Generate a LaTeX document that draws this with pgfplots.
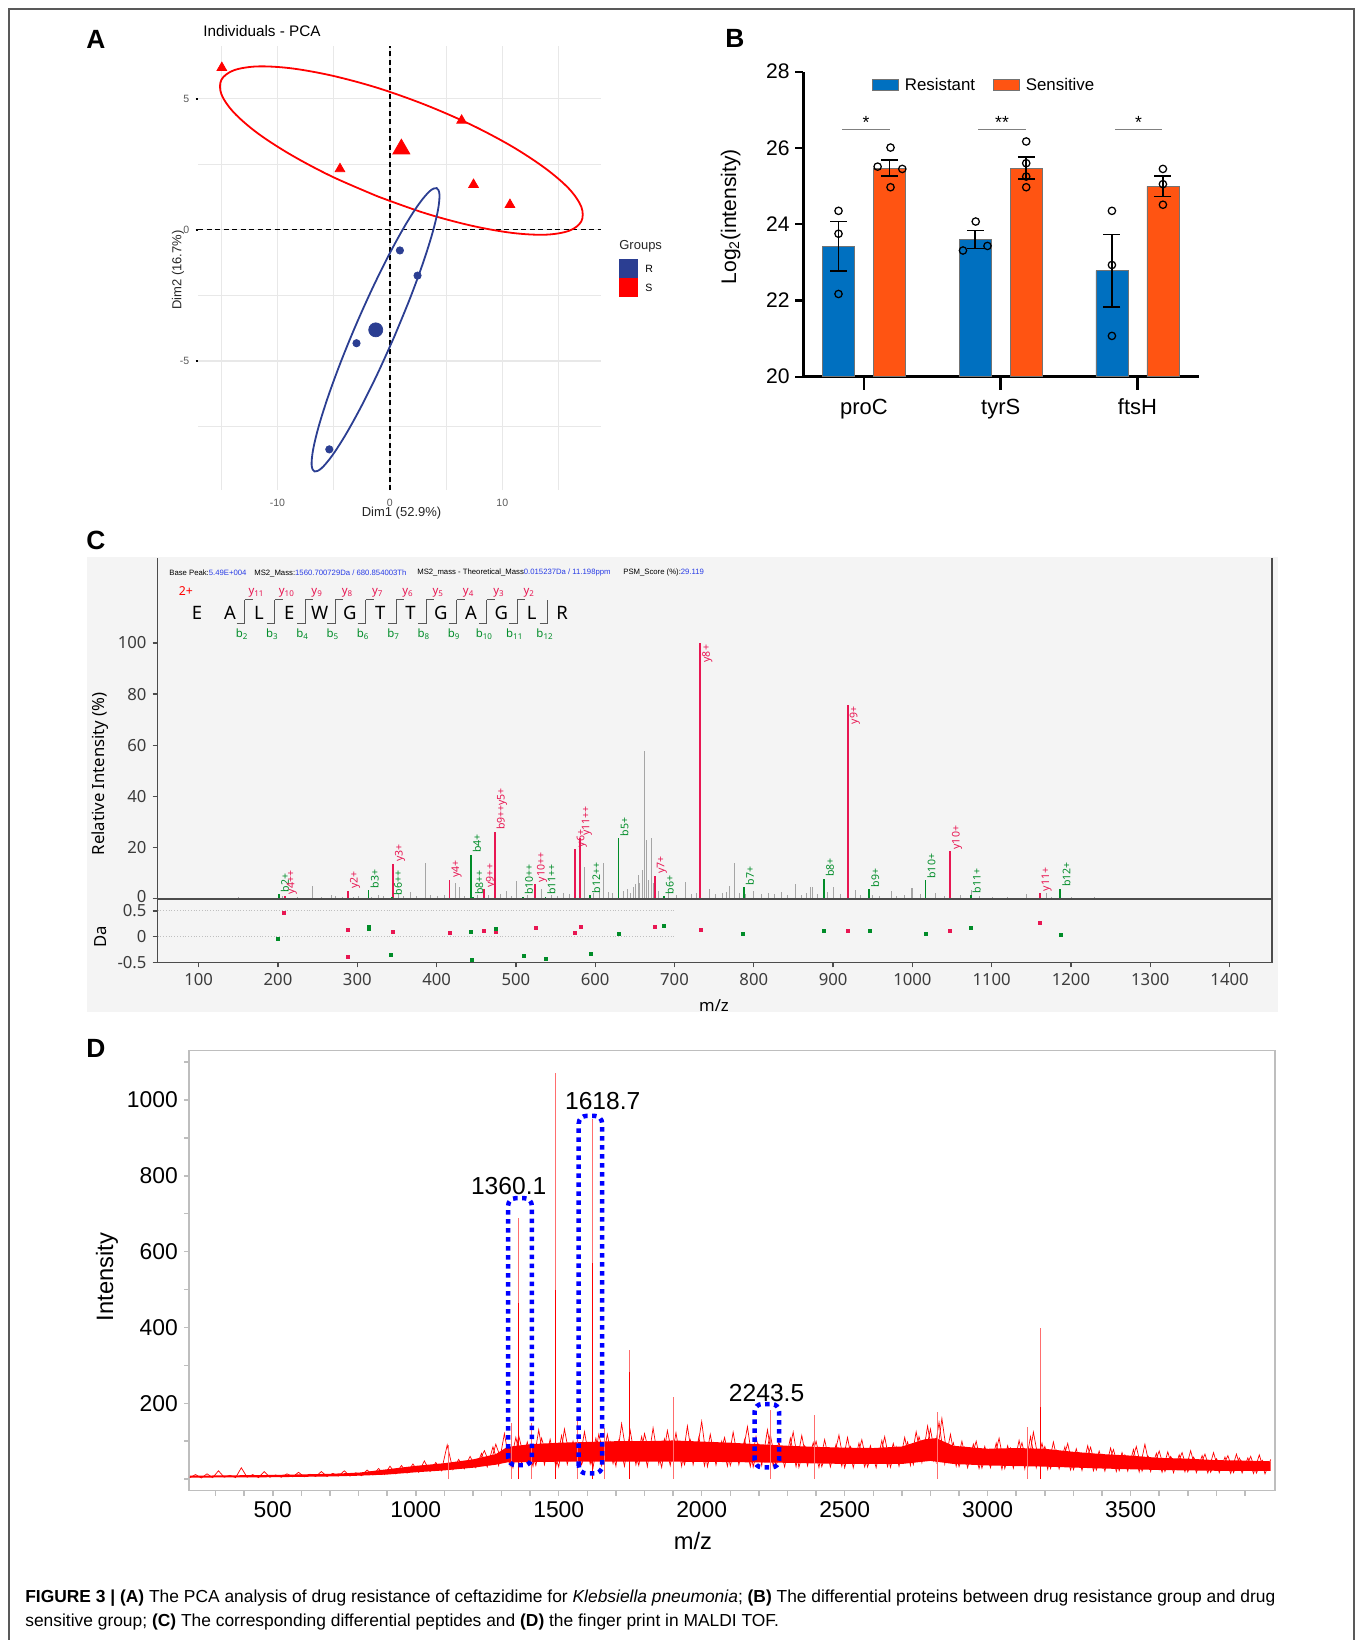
\documentclass[border=0pt]{standalone}
\usepackage{fontspec}
\setmainfont{Liberation Sans}
\newfontfamily\noto{Noto Sans}
\usepackage{pgfplots}
\pgfplotsset{compat=1.18}

\definecolor{pcared}{RGB}{255,0,0}
\definecolor{pcablue}{RGB}{43,62,146}
\definecolor{gridgray}{RGB}{232,232,232}
\definecolor{resblue}{RGB}{0,112,192}
\definecolor{senorange}{RGB}{255,84,18}
\definecolor{yion}{RGB}{232,22,82}
\definecolor{bion}{RGB}{0,140,40}
\definecolor{peakgray}{RGB}{165,165,165}
\definecolor{cbg}{RGB}{244,244,244}
\definecolor{ticktext}{RGB}{60,60,60}
\definecolor{hdrblue}{RGB}{40,60,230}
\definecolor{framegray}{RGB}{190,190,190}
\definecolor{spike}{RGB}{255,110,110}

\newcommand{\fs}[1]{\fontsize{#1}{#1}\selectfont}
% peak label, text going up from the peak top
\newcommand{\pku}[4]{\node[rotate=90, anchor=north west, inner sep=0.9pt, text=#1, font=\noto\bfseries\fs{6}] at (axis cs:#2,#3) {#4};}
% peak label, text going down from the peak top
\newcommand{\pkd}[4]{\node[rotate=90, anchor=north east, inner sep=0.9pt, text=#1, font=\noto\bfseries\fs{6}] at (axis cs:#2,#3) {#4};}

\begin{document}
\begin{tikzpicture}
\path[use as bounding box] (0,0) rectangle (271mm,-328mm);
\begin{scope}[x=0.2mm,y=-0.2mm]
\draw[gray!70!black, line width=0.3mm] (9,1640) -- (9,9) -- (1354,9) -- (1354,1640);
\fill[cbg] (87,557) rectangle (1278,1012);
\end{scope}

% ---------------- A: PCA
\begin{axis}[
  at={(39.6mm,-98mm)}, anchor=south west, scale only axis,
  width=80.6mm, height=88.8mm,
  xmin=-17.07, xmax=18.78, ymin=-9.93, ymax=7.01,
  axis line style={draw=none},
  xtick={-10,0,10}, ytick={-5,0,5},
  minor xtick={-15,-5,5,15}, minor ytick={-7.5,-2.5,2.5},
  grid=both,
  major grid style={gridgray, line width=0.3mm},
  minor grid style={gridgray, line width=0.2mm},
  xtick style={draw=none}, minor tick style={draw=none},
  ytick style={black, line width=0.4mm}, major tick length=0.5mm, tick align=outside,
  ytick pos=left,
  tick label style={font=\fs{6}, text=black!65},
  /pgf/number format/assume math mode=true,
  xlabel={Dim1 (52.9\%)}, ylabel={Dim2 (16.7\%)},
  label style={font=\fs{7.4}, text=black!85},
  xlabel style={at={(axis description cs:0.505,-0.0518)}, anchor=center},
  ylabel style={at={(axis description cs:-0.0496,0.4955)}, anchor=center},
]
\addplot[black, line width=0.3mm, dash pattern=on 1mm off 0.7mm] coordinates {(-17.07,0)(18.78,0)};
\addplot[black, line width=0.3mm, dash pattern=on 1mm off 0.7mm] coordinates {(0,-9.93)(0,7.01)};
\addplot[pcared, line width=0.36mm, smooth, tension=0.55] coordinates {
(-1.08,1.27)(-5.16,2.03)(-8.81,2.86)(-11.79,3.69)(-13.90,4.48)(-14.99,5.17)(-14.99,5.72)(-13.90,6.08)
(-11.79,6.23)(-8.81,6.16)(-5.16,5.88)(-1.09,5.41)(3.12,4.77)(7.20,4.01)(10.85,3.18)(13.83,2.34)
(15.94,1.56)(17.03,0.87)(17.03,0.32)(15.94,-0.04)(13.83,-0.19)(10.85,-0.12)(7.20,0.16)(3.13,0.63)(-1.08,1.27)};
\addplot[pcablue, line width=0.36mm, smooth, tension=0.55] coordinates {
(0.415,-4.055)(-1.049,-5.446)(-2.528,-6.726)(-3.921,-7.808)(-5.135,-8.618)(-6.085,-9.101)(-6.708,-9.223)
(-6.961,-8.977)(-6.826,-8.380)(-6.313,-7.472)(-5.456,-6.314)(-4.315,-4.986)(-2.967,-3.579)(-1.503,-2.188)
(-0.024,-0.908)(1.369,0.174)(2.583,0.984)(3.533,1.467)(4.156,1.589)(4.409,1.343)(4.274,0.746)(3.761,-0.162)
(2.904,-1.320)(1.763,-2.648)(0.415,-4.055)};
\addplot[only marks, mark=triangle*, mark size=3.2pt, pcared] coordinates {
(-14.95,6.18)(6.38,4.17)(-4.44,2.32)(7.44,1.72)(10.68,0.955)};
\addplot[only marks, mark=triangle*, mark size=5.6pt, pcared] coordinates {(1.02,3.08)};
\addplot[only marks, mark=*, mark size=2.1pt, pcablue] coordinates {
(0.89,-0.79)(2.46,-1.75)(-2.97,-4.33)(-5.39,-8.38)};
\addplot[only marks, mark=*, mark size=4pt, pcablue] coordinates {(-1.26,-3.82)};
\end{axis}

% ---------------- B: bars
\begin{axis}[
  at={(160.66mm,-75.34mm)}, anchor=south west, scale only axis,
  width=79.1mm, height=61mm,
  xmin=-0.444, xmax=2.449, ymin=20, ymax=28,
  axis x line*=bottom, axis y line*=left,
  axis line style={black, line width=0.5mm},
  xtick={0,1,2}, xticklabels={proC,tyrS,ftsH},
  ytick={20,22,24,26,28},
  tick align=outside,
  xtick style={black, line width=0.55mm, /pgfplots/major tick length=2.6mm},
  ytick style={black, line width=0.45mm, /pgfplots/major tick length=1.6mm},
  yticklabel style={font=\fs{12}},
  xticklabel style={font=\fs{12.5}, yshift=-1.7mm},
  /pgf/number format/assume math mode=true,
  ylabel={Log\textsubscript{2}(intensity)},
  ylabel style={font=\fs{12}, at={(axis description cs:-0.1838,0.5246)}, anchor=center},
  clip=false,
]
\addplot[ybar, bar width=0.234, bar shift=0pt, fill=resblue, draw=black!55, line width=0.15mm]
  coordinates {(-0.1865,23.42)(0.8135,23.60)(1.8135,22.78)};
\addplot[ybar, bar width=0.234, bar shift=0pt, fill=senorange, draw=black!55, line width=0.15mm]
  coordinates {(0.1865,25.46)(1.1865,25.47)(2.1865,24.99)};
\addplot[draw=none, mark=none,
  error bars/.cd, y dir=both, y explicit,
  error bar style={draw=black, solid, line width=0.3mm},
  error mark options={rotate=90, mark size=4.8pt, draw=black, solid, line width=0.3mm}]
  coordinates {(-0.1865,23.42) +- (0,0.65) (0.1865,25.47) +- (0,0.21) (0.8135,23.60) +- (0,0.24)
               (1.1865,25.47) +- (0,0.29) (1.8135,22.78) +- (0,0.95) (2.1865,24.99) +- (0,0.27)};
\addplot[only marks, mark=o, mark size=2.1pt, black, line width=0.25mm] coordinates {
(-0.1865,24.35)(-0.1865,23.75)(-0.1865,22.17)
(0.0995,25.51)(0.280,25.45)(0.194,26.01)(0.194,24.97)
(0.817,24.07)(0.903,23.43)(0.724,23.31)
(1.1865,26.17)(1.1865,25.60)(1.1865,25.25)(1.1865,24.97)
(1.8135,24.35)(1.8135,22.93)(1.8135,21.07)
(2.1865,25.45)(2.1865,25.05)(2.1865,24.51)};
\draw[gray, line width=0.25mm] (axis cs:-0.161,26.49) -- (axis cs:0.190,26.49);
\draw[gray, line width=0.25mm] (axis cs:0.834,26.49) -- (axis cs:1.185,26.49);
\draw[gray, line width=0.25mm] (axis cs:1.836,26.49) -- (axis cs:2.180,26.49);
\node[font=\fs{10}] at (axis cs:0.015,26.68) {*};
\node[font=\fs{10}] at (axis cs:1.01,26.68) {**};
\node[font=\fs{10}] at (axis cs:2.008,26.68) {*};
\end{axis}

% ---------------- C: MS/MS spectrum, upper
\begin{axis}[
  at={(31.54mm,-179.66mm)}, anchor=south west, scale only axis,
  width=222.86mm, height=68.06mm,
  xmin=48.3, xmax=1453.5, ymin=0, ymax=133.3,
  axis x line*=bottom, axis y line*=left,
  axis line style={black!70, line width=0.25mm},
  xtick=\empty, ytick={0,20,40,60,80,100},
  yticklabels={\raisebox{2.2pt}{0},20,40,60,80,100},
  tick align=outside, major tick length=1mm,
  ytick style={black!70, line width=0.25mm},
  tick label style={font=\noto\fs{9.5}, text=ticktext},
  /pgf/number format/assume math mode=true,
  ylabel={\bfseries Relative Intensity (\%)},
  ylabel style={font=\noto\fs{9.5}, at={(axis description cs:-0.0515,0.366)}, anchor=center},
  clip=false,
]
\addplot[ycomb, peakgray, line width=0.18mm] coordinates {
(150,0.4)(180,0.3)(205,0.8)(225,0.5)(243,4.9)(255,0.6)(268,1.3)(272,0.8)(281,0.5)(295,0.7)(301,1.0)
(318,0.6)(327,1.2)(333,0.8)(352,1.5)(358,0.9)(367,2.5)(374,1.0)(385.4,14)(392,1.1)(401,0.8)(410,1.2)
(424,5.9)(428.8,4.5)(435,1.0)(452,1.4)(466,1.2)(480,1.5)(487.7,2.9)(495,1.0)(500.8,6.8)(515,1.3)
(532,3.6)(545,1.2)(553,1.0)(560,2.0)(568,1.6)(587,12.4)(598,2.0)(605,3)(610.4,14)(617,2.5)(622,2)
(636,2.8)(641,3.5)(645,2.2)(648,4.6)(651,5.5)(654,9)(656,6)(659.6,11)(662.3,57.7)(664.5,22.8)(667,7)
(670.5,23.5)(673,6)(680,3)(692,2)(702,1.4)(714,6.5)(722,1.5)(728,2)(743.7,3.8)(752,1.5)(760,2)
(765,2.6)(768.9,4.8)(775.4,13.7)(782,2)(790,1.5)(800,3)(810,1.5)(818,2.2)(826,1.8)(835,2.5)(842,1.2)
(852,5.6)(860,1.4)(866,2.2)(871,4.3)(873.8,4.3)(880,1.8)(893,2.3)(901,4.6)(909,1.5)(919.5,24)
(928.4,3.3)(935,1.2)(950,1.4)(958,1)(973.2,2.9)(980,1)(990,1.2)(998.4,4.2)(1000.5,4.2)(1010,1.5)
(1029.5,2)(1040,0.8)(1060,1.2)(1074.9,3.3)(1085,0.8)(1100.5,0.7)(1120,0.6)(1144,1.6)(1168.9,2)
(1175,0.6)(1200,0.5)(1230,0.4)};
\addplot[ycomb, yion, line width=0.35mm] coordinates {
(208.7,0.8)(288.2,2.9)(345.2,13.5)(416.3,7.3)(459.8,3.5)(473.3,26.0)(524.3,5.6)(574.3,19.2)
(580.8,23.8)(675.4,8.9)(732.4,100)(918.5,75.8)(1047.5,18.4)(1160.6,2.0)};
\addplot[ycomb, bion, line width=0.35mm] coordinates {
(201.1,1.6)(314.2,3.1)(343.7,0.5)(443.2,17.0)(446,0.6)(508.8,0.7)(537.3,0.6)(593.8,1.3)(629.3,23.5)
(686.3,0.9)(787.4,4.3)(888.4,7.6)(945.5,3.5)(1016.5,7.0)(1073.5,1.3)(1186.6,3.8)};
\pku{bion}{201.1}{1.6}{b2+}
\pku{yion}{208.7}{0.8}{y4++}
\pku{yion}{288.2}{2.9}{y2+}
\pku{bion}{314.2}{3.1}{b3+}
\pku{bion}{343.7}{0.5}{b6++}
\pku{yion}{345.2}{13.5}{y3+}
\pku{yion}{416.3}{7.3}{y4+}
\pku{bion}{443.2}{17.0}{b4+}
\pku{bion}{446}{0.6}{b8++}
\pku{yion}{459.8}{3.5}{y9++}
\pku{yion}{473.3}{26.0}{b9++y5+}
\pku{bion}{508.8}{0.7}{b10++}
\pku{yion}{524.3}{5.6}{y10++}
\pku{bion}{537.3}{0.6}{b11++}
\pku{yion}{574.3}{19.2}{y6+}
\pku{yion}{580.8}{23.8}{y11++}
\pku{bion}{593.8}{1.3}{b12++}
\pku{bion}{629.3}{23.5}{b5+}
\pku{yion}{675.4}{8.9}{y7+}
\pku{bion}{686.3}{0.9}{b6+}
\pkd{yion}{732.4}{100}{y8+}
\pku{bion}{787.4}{4.3}{b7+}
\pku{bion}{888.4}{7.6}{b8+}
\pkd{yion}{918.5}{75.8}{y9+}
\pku{bion}{945.5}{3.5}{b9+}
\pku{bion}{1016.5}{7.0}{b10+}
\pku{yion}{1047.5}{18.4}{y10+}
\pku{bion}{1073.5}{1.3}{b11+}
\pku{yion}{1160.6}{2.0}{y11+}
\pku{bion}{1186.6}{3.8}{b12+}
\end{axis}

% ---------------- C: mass error, lower
\begin{axis}[
  at={(31.54mm,-192.46mm)}, anchor=south west, scale only axis,
  width=222.86mm, height=12.66mm,
  xmin=48.3, xmax=1453.5, ymin=-0.5, ymax=0.733,
  axis line style={black!70, line width=0.25mm},
  xtick={100,200,...,1400}, ytick={-0.5,0,0.5}, yticklabels={-0.5,0,0.5},
  tick align=outside, major tick length=1mm, tick pos=left,
  tick style={black!70, line width=0.25mm},
  tick label style={font=\noto\fs{9.5}, text=ticktext},
  /pgf/number format/1000 sep={},
  /pgf/number format/assume math mode=true,
  xlabel={\bfseries m/z}, ylabel={\bfseries Da},
  label style={font=\noto\fs{9.5}},
  xlabel style={at={(axis description cs:0.4992,-0.682)}, anchor=center},
  ylabel style={at={(axis description cs:-0.0514,0.40)}, anchor=center},
]
\addplot[black!25, densely dotted, line width=0.2mm] coordinates {(48.3,0.5)(700,0.5)};
\addplot[black!25, densely dotted, line width=0.2mm] coordinates {(48.3,0)(700,0)};
\addplot[only marks, mark=square*, mark size=0.85pt, yion] coordinates {
(207.7,0.47)(288,0.14)(345.3,0.09)(416.8,0.08)(459.7,0.11)(474.2,0.10)(525.4,0.18)(574.6,0.07)
(581.4,0.20)(675.4,0.20)(732.8,0.14)(918.6,0.11)(1047.5,0.11)(1160.7,0.26)(288,-0.39)};
\addplot[only marks, mark=square*, mark size=0.85pt, bion] coordinates {
(200.4,-0.04)(314.4,0.20)(315,0.16)(342.9,-0.35)(443.3,0.09)(444.4,-0.45)(474.2,0.15)(509.5,-0.38)
(537.5,-0.43)(593.9,-0.34)(630,0.05)(686.3,0.21)(786.3,0.06)(888.5,0.11)(945.9,0.11)(1016.9,0.06)
(1073.8,0.17)(1186.9,0.04)};
\end{axis}

% ---------------- D: MALDI TOF
\begin{axis}[
  at={(37.8mm,-298.14mm)}, anchor=south west, scale only axis,
  width=217.2mm, height=88mm,
  xmin=207, xmax=4005, ymin=-30.6, ymax=1130,
  axis line style={framegray, line width=0.3mm},
  xtick={500,1000,...,3500}, minor xtick={300,400,...,3900},
  ytick={200,400,...,1000}, minor ytick={0,100,...,1100},
  tick align=outside, tick pos=left, major tick length=1mm, minor tick length=1mm,
  tick style={framegray, line width=0.3mm},
  /pgf/number format/1000 sep={},
  /pgf/number format/assume math mode=true,
  tick label style={font=\fs{13}},
  xlabel={m/z}, ylabel={Intensity},
  label style={font=\fs{13.5}},
  xlabel style={at={(axis description cs:0.464,-0.1143)}, anchor=center},
  ylabel style={at={(axis description cs:-0.0755,0.486)}, anchor=center},
]
\addplot[fill=red, draw=none] coordinates {
(210,9)(500,11)(700,14)(800,17)(900,26)(1000,35)(1100,42)(1200,52)(1280,66)(1320,85)(1400,92)
(1500,96)(1600,98)(1700,100)(1800,100)(1900,102)(2000,99)(2100,96)(2200,92)(2300,88)(2400,85)
(2500,83)(2600,82)(2700,86)(2780,105)(2820,108)(2880,88)(3000,80)(3100,82)(3200,80)(3300,72)
(3400,66)(3500,62)(3600,56)(3700,54)(3800,50)(3900,49)(3990,47)
(3990,22)(3800,22)(3600,24)(3400,28)(3200,33)(3000,36)(2880,40)(2800,48)(2700,40)(2500,40)
(2300,43)(2100,45)(1900,46)(1700,46)(1500,46)(1320,44)(1280,38)(1200,30)(1100,23)(1000,18)
(900,12)(800,9)(700,7)(500,5)(210,4)} --cycle;
\addplot[red, line width=0.4pt] coordinates {
(210,4)(230,12)(250,3)(270,14)(290,4)(310,22)(330,5)(350,10)(370,4)(390,30)(410,5)(430,12)(450,4)
(470,20)(490,5)(510,11)(530,5)(550,14)(570,6)(590,18)(610,6)(630,13)(650,7)(670,20)(690,7)(710,15)
(730,8)(750,22)(770,8)(790,17)
(810,9)(830,24)(850,11)(870,28)(890,12)(910,34)(930,14)(950,36)(970,16)(990,40)(1010,18)(1030,48)
(1050,20)(1070,44)(1090,22)(1110,90)(1130,25)(1150,52)(1170,27)(1190,60)(1210,30)(1230,68)(1250,32)
(1270,85)(1290,36)
(1310,120)(1330,36)(1350,110)(1370,40)(1390,98)(1410,34)(1430,130)(1450,38)(1470,105)(1490,33)
(1510,115)(1530,39)(1550,100)(1570,35)(1590,125)(1610,40)(1630,108)(1650,36)(1670,118)(1690,41)
(1710,102)(1730,34)(1750,128)(1770,38)(1790,112)(1810,33)(1830,135)(1850,40)(1870,106)(1890,36)
(1910,122)(1930,34)(1950,140)(1970,38)(1990,110)(2010,35)
(2030,118)(2050,37)(2070,100)(2090,34)(2110,124)(2130,38)(2150,104)(2170,33)(2190,112)(2210,36)
(2230,130)(2250,34)(2270,98)(2290,32)(2310,108)(2330,33)(2350,115)(2370,35)(2390,96)(2410,31)
(2430,104)(2450,32)(2470,92)(2490,34)(2510,110)(2530,30)(2550,95)(2570,32)(2590,88)(2610,30)
(2630,102)(2650,33)(2670,94)(2690,34)(2710,110)
(2730,36)(2750,125)(2770,44)(2790,140)(2810,50)(2830,150)(2850,40)(2870,118)(2890,34)
(2910,100)(2930,30)(2950,92)(2970,28)(2990,86)(3010,30)(3030,95)(3050,26)(3070,88)(3090,29)
(3110,102)(3130,27)(3150,112)(3170,30)(3190,95)(3210,26)(3230,98)(3250,27)(3270,85)(3290,24)
(3310,80)(3330,23)(3350,88)(3370,22)(3390,74)(3410,21)(3430,82)(3450,20)(3470,70)(3490,21)
(3510,78)(3530,19)(3550,92)(3570,20)(3590,68)(3610,18)(3630,72)(3650,17)(3670,64)(3690,19)
(3710,75)(3730,17)(3750,62)(3770,16)(3790,70)(3810,17)(3830,58)(3850,15)(3870,66)(3890,16)
(3910,56)(3930,15)(3950,64)(3970,14)(3990,52)};
\addplot[red, line width=0.4pt] coordinates {
(1220,45)(1240,75)(1260,38)(1280,92)(1300,48)(1320,78)(1340,30)(1360,115)(1380,52)(1400,88)
(1420,36)(1440,108)(1460,55)(1480,82)(1500,32)(1520,132)(1540,50)(1560,96)(1580,38)(1600,84)
(1620,30)(1640,118)(1660,56)(1680,98)(1700,34)(1720,146)(1740,50)(1760,90)(1780,36)(1800,120)
(1820,58)(1840,94)(1860,31)(1880,128)(1900,52)(1920,88)(1940,38)(1960,104)(1980,57)(2000,152)
(2020,33)(2040,96)(2060,52)(2080,110)(2100,36)(2120,86)(2140,54)(2160,138)(2180,32)(2200,92)
(2220,50)(2240,118)(2260,35)(2280,82)(2300,53)(2320,124)(2340,31)(2360,88)(2380,47)(2400,100)
(2420,33)(2440,80)(2460,50)(2480,116)(2500,30)(2520,86)(2540,46)(2560,104)(2580,32)(2600,78)
(2620,48)(2640,112)(2660,31)(2680,86)(2700,50)(2720,98)(2740,38)(2760,112)(2780,58)(2800,132)
(2820,46)(2840,160)(2860,52)(2880,96)(2900,33)(2920,84)(2940,48)(2960,100)(2980,29)(3000,78)
(3020,44)(3040,108)(3060,28)(3080,82)(3100,46)(3120,96)(3140,30)(3160,124)(3180,42)(3200,86)
(3220,28)(3240,76)(3260,44)(3280,94)(3300,25)(3320,70)(3340,40)(3360,84)(3380,24)(3400,66)
(3420,38)(3440,78)(3460,22)(3480,64)(3500,36)(3520,86)(3540,21)(3560,62)(3580,34)(3600,74)
(3620,20)(3640,60)(3660,32)(3680,70)(3700,19)(3720,58)(3740,30)(3760,66)(3780,18)(3800,54)
(3820,28)(3840,62)(3860,17)(3880,56)(3900,27)(3920,60)(3940,16)(3960,50)(3980,30)};
\addplot[ycomb, spike, line width=0.5pt] coordinates {
(1116,90)(1333,147)(1358,688)(1406,147)(1488,1071)(1565,165)(1617,949)(1659,134)(1748,340)
(1901,216)(2239,182)(2395,169)(2824,178)(3139,138)(3185,398)};
\addplot[ycomb, red, line width=0.5pt] coordinates {
(1358,464)(1488,499)(1617,569)(1748,283)(3185,191)};
\draw[blue, line width=0.9mm, dash pattern=on 0.9mm off 0.9mm, rounded corners=1.5mm]
  (axis cs:1323,37) rectangle (axis cs:1406,741);
\draw[blue, line width=0.9mm, dash pattern=on 0.9mm off 0.9mm, rounded corners=1.5mm]
  (axis cs:1570,15) rectangle (axis cs:1652,958);
\draw[blue, line width=0.9mm, dash pattern=on 0.9mm off 0.9mm, rounded corners=1.5mm]
  (axis cs:2185,31) rectangle (axis cs:2271,198);
\node[font=\fs{14}] at (axis cs:1325,773) {1360.1};
\node[font=\fs{14}] at (axis cs:1654,996) {1618.7};
\node[font=\fs{14}] at (axis cs:2227,226) {2243.5};
\end{axis}

% ---------------- texts and keys
\begin{scope}[x=0.2mm,y=-0.2mm]
\node[font=\bfseries\fs{15}] at (96,39) {A};
\node[font=\bfseries\fs{15}] at (735,38) {B};
\node[font=\bfseries\fs{15}] at (96,540) {C};
\node[font=\bfseries\fs{15}] at (96,1048) {D};
\node[anchor=west, font=\fs{8.7}, inner sep=0pt] at (203,31) {Individuals - PCA};
% PCA legend
\node[anchor=west, font=\fs{7.4}, text=black!85, inner sep=0pt] at (619,246) {Groups};
\fill[pcablue] (619,259) rectangle (638,278);
\fill[pcared] (619,278) rectangle (638,297);
\node[anchor=west, font=\fs{6}, inner sep=0pt] at (645,269) {R};
\node[anchor=west, font=\fs{6}, inner sep=0pt] at (645,288) {S};
% bar legend
\filldraw[fill=resblue, draw=black!55, line width=0.15mm] (872.6,79) rectangle (897.9,90);
\filldraw[fill=senorange, draw=black!55, line width=0.15mm] (993.6,79) rectangle (1019.6,90);
\node[anchor=west, font=\fs{9.6}, inner sep=0pt] at (904.5,84.5) {Resistant};
\node[anchor=west, font=\fs{9.6}, inner sep=0pt] at (1025.5,84.5) {Sensitive};
% panel C frame line and header
\draw[black!70, line width=0.25mm] (1272,558) -- (1272,899);
\node[anchor=west, font=\fs{4.4}, inner sep=0pt] at (169,573) {Base Peak:\textcolor{hdrblue}{5.49E+004}};
\node[anchor=west, font=\fs{4.4}, inner sep=0pt] at (254,573) {MS2\_Mass:\textcolor{hdrblue}{1560.700729Da / 680.854003Th}};
\node[anchor=west, font=\fs{4.4}, inner sep=0pt] at (417,573) {MS2\_mass - Theoretical\_Mass\textcolor{hdrblue}{0.015237Da / 11.198ppm}};
\node[anchor=west, font=\fs{4.4}, inner sep=0pt] at (623,573) {PSM\_Score (\%):\textcolor{hdrblue}{29.119}};
\node[text=red, font=\noto\bfseries\fs{7}] at (186,591) {2+};
\foreach \xx/\ch in {197/E,230/A,259/L,289.3/E,319.6/W,349.9/G,380.2/T,410.5/T,440.8/G,471.1/A,501.4/G,531.7/L,562/R}
  \node[font=\noto\bfseries\fs{10.5}] at (\xx,613) {\ch};
\foreach \i [evaluate=\i as \bx using 244.5+30.3*(\i-2)] in {2,...,12} {
  \draw[black!65, line width=0.2mm] (\bx-8,624) -- (\bx,624) -- (\bx,600);
  \node[text=bion, font=\noto\bfseries\fs{6.5}] at (\bx-2.5,634) {b\textsubscript{\i}};
}
\foreach \i [evaluate=\i as \bx using 244.5+30.3*(\i-2), evaluate=\i as \yn using int(13-\i)] in {2,...,11} {
  \draw[black!65, line width=0.2mm] (\bx,600) -- (\bx+8,600);
  \node[text=yion, font=\noto\fs{6.5}] at (\bx+12,592.5) {y\textsubscript{\yn}};
}
% caption
\node[anchor=base west, font=\fs{9.9}, inner sep=0pt] at (25,1603) {\textbf{FIGURE 3 | (A)} The PCA analysis of drug resistance of ceftazidime for \textit{Klebsiella pneumonia}; \textbf{(B)} The differential proteins between drug resistance group and drug};
\node[anchor=base west, font=\fs{9.9}, inner sep=0pt] at (25,1627) {sensitive group; \textbf{(C)} The corresponding differential peptides and \textbf{(D)} the finger print in MALDI TOF.};
\end{scope}
\end{tikzpicture}
\end{document}
